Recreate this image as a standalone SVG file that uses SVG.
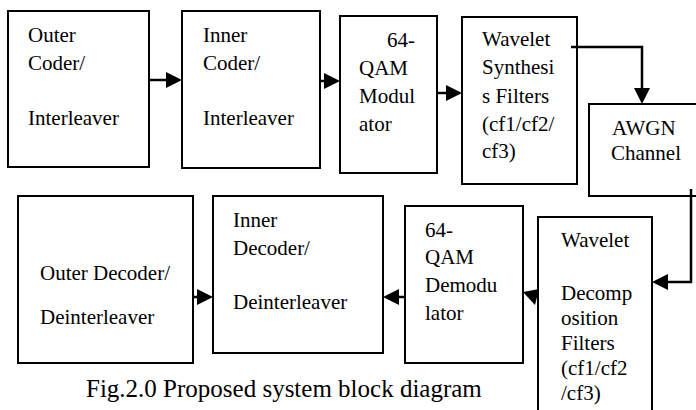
<svg xmlns="http://www.w3.org/2000/svg" width="696" height="410" viewBox="0 0 696 410">
<style>
.box{fill:#fff;stroke:#000;stroke-width:2}
text{font-family:"Liberation Serif","Times New Roman",serif;font-size:21px;fill:#000}
.cap{font-size:25px}
.ln{fill:none;stroke:#000;stroke-width:2.5}
.ah{fill:#000}
</style>
<rect width="696" height="410" fill="#fff"/>
<g id="outer-coder"><rect class="box" x="8" y="11" width="141" height="156"/>
<text x="28" y="42">Outer</text><text x="28" y="70">Coder/</text><text x="28" y="125">Interleaver</text></g>
<g id="inner-coder"><rect class="box" x="182" y="11" width="138" height="157"/>
<text x="203" y="42">Inner</text><text x="203" y="70">Coder/</text><text x="203" y="125">Interleaver</text></g>
<g id="qam-mod"><rect class="box" x="340" y="16" width="97" height="157"/>
<text x="387" y="47">64-</text><text x="359" y="75">QAM</text><text x="359" y="103">Modul</text><text x="359" y="131">ator</text></g>
<g id="wavelet-synth"><rect class="box" x="462" y="17" width="115" height="167"/>
<text x="482" y="46">Wavelet</text><text x="482" y="74">Synthesi</text><text x="482" y="103">s Filters</text><text x="482" y="131">(cf1/cf2/</text><text x="482" y="158">cf3)</text></g>
<g id="awgn"><rect class="box" x="589" y="104" width="112" height="92"/>
<text x="612" y="135">AWGN</text><text x="611" y="160">Channel</text></g>
<g id="wavelet-decomp"><rect class="box" x="538" y="217" width="114" height="200"/>
<text x="561" y="247">Wavelet</text><text x="561" y="300">Decomp</text><text x="561" y="325">osition</text><text x="561" y="350">Filters</text><text x="561" y="375">(cf1/cf2</text><text x="561" y="400">/cf3)</text></g>
<g id="qam-demod"><rect class="box" x="405" y="206" width="118" height="157"/>
<text x="425" y="237">64-</text><text x="425" y="264">QAM</text><text x="425" y="292">Demodu</text><text x="425" y="320">lator</text></g>
<g id="inner-decoder"><rect class="box" x="213" y="196" width="170" height="157"/>
<text x="233" y="227">Inner</text><text x="233" y="255">Decoder/</text><text x="233" y="309">Deinterleaver</text></g>
<g id="outer-decoder"><rect class="box" x="18" y="196" width="175" height="167"/>
<text x="40" y="280">Outer Decoder/</text><text x="40" y="324">Deinterleaver</text></g>
<g id="connectors">
<path class="ln" d="M149 80H167"/><polygon class="ah" points="166,72 182,80 166,88"/>
<path class="ln" d="M320 81H325"/><polygon class="ah" points="324,73 340,81 324,89"/>
<path class="ln" d="M437 93H447"/><polygon class="ah" points="446,85 462,93 446,101"/>
<path class="ln" d="M571 47H642V89"/><polygon class="ah" points="634,88 650,88 642,104"/>
<path class="ln" d="M691 189V282H667"/><polygon class="ah" points="668,274 652,282 668,290"/>
<polygon class="ah" points="523,292 539,289 535,305"/>
<path class="ln" d="M405 297H397"/><polygon class="ah" points="399,289 383,297 399,305"/>
<path class="ln" d="M193 297H197"/><polygon class="ah" points="197,289 213,297 197,305"/>
</g>
<text class="cap" x="86" y="397">Fig.2.0 Proposed system block diagram</text>
</svg>
